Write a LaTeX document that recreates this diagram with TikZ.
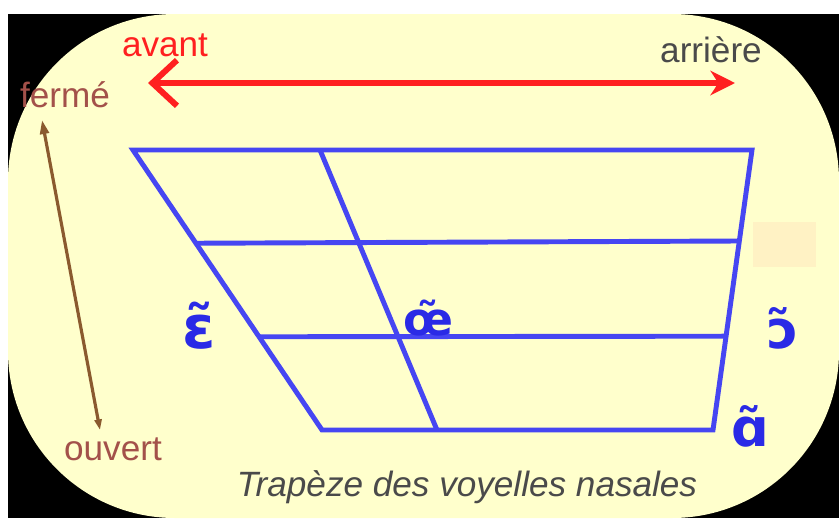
\documentclass[tikz,border=0pt]{standalone}
\usepackage{fontspec}
\setmainfont{Liberation Sans}
\newfontfamily\ipafont{DejaVu Sans}
\usetikzlibrary{arrows.meta,calc}
\definecolor{bgyellow}{HTML}{FFFFCC}
\definecolor{patch}{HTML}{FFF2C4}
\definecolor{linesblue}{HTML}{4646F2}
\definecolor{vowelblue}{HTML}{2A2AE6}
\definecolor{arrowred}{HTML}{FF2020}
\definecolor{arrowbrown}{HTML}{8A5A2E}
\definecolor{labelbrown}{HTML}{A3514A}
\definecolor{labelgray}{HTML}{4A4A4A}
\tikzset{
  lbl/.style={font=\fontsize{20}{24}\selectfont, inner sep=0pt},
  vowel/.style={font=\ipafont\bfseries\fontsize{30}{34}\selectfont, text=vowelblue, inner sep=0pt},
  grid/.style={linesblue, line width=2.8pt}
}
\begin{document}
\begin{tikzpicture}[x=0.02cm,y=-0.02cm]
    \useasboundingbox (0,0) rectangle (839,518);
    % background card
    \fill[white] (0,0) rectangle (839,518);
    \fill[black] (8,14) rectangle (839,518);
    \fill[bgyellow, rounded corners=95pt] (8,14) rectangle (839,518);
    \fill[patch] (753,222) rectangle (816,267);
    % trapezoid corners
    \coordinate (tl) at (133,150);
    \coordinate (tr) at (752,150);
    \coordinate (bl) at (322,430);
    \coordinate (br) at (713,430);
    \coordinate (tm) at (320,150);
    \coordinate (bm) at (437,430);
    % outline and inner lines
    \draw[grid, line join=miter] (tl) -- (tr) -- (br) -- (bl) -- cycle;
    \draw[grid] (tm) -- (bm);
    \draw[grid] ($(tl)!0.333!(bl)$) -- ($(tr)!0.325!(br)$);
    \draw[grid] ($(tl)!0.667!(bl)$) -- ($(tr)!0.665!(br)$);
    % vowels
    \node[vowel, font=\ipafont\bfseries\fontsize{34}{38}\selectfont] (en) at (199,326) {ɛ̃};
    \node[vowel, font=\ipafont\bfseries\fontsize{26}{30}\selectfont] (eu) at (428,318) {œ̃};
    \node[vowel] (on) at (783,328) {ɔ̃};
    \node[vowel] (an) at (750,426) {ɑ̃};
    % front / back
    \node[lbl, text=arrowred] (avant) at (165,45) {avant};
    \node[lbl, text=labelgray] (arriere) at (711,50) {arrière};
    \coordinate (fr) at (148,83);
    \coordinate (bk) at (735,83);
    \draw[arrowred, line width=3.4pt, {Straight Barb[length=14pt,width=26pt]}-{Stealth[length=14pt,width=14pt]}] (fr) -- (bk);
    % closed / open
    \node[lbl, text=labelbrown] (ferme) at (65,95) {fermé};
    \node[lbl, text=labelbrown] (ouvert) at (113,449) {ouvert};
    \coordinate (hi) at (42,120);
    \coordinate (lo) at (100,430);
    \draw[arrowbrown, line width=1.8pt, {Triangle[length=8pt,width=5pt]}-{Triangle[length=6pt,width=4pt]}] (hi) -- (lo);
    % caption
    \node[lbl, text=labelgray, font=\itshape\fontsize{20}{24}\selectfont] (caption) at (467,487) {Trapèze des voyelles nasales};
\end{tikzpicture}
\end{document}
